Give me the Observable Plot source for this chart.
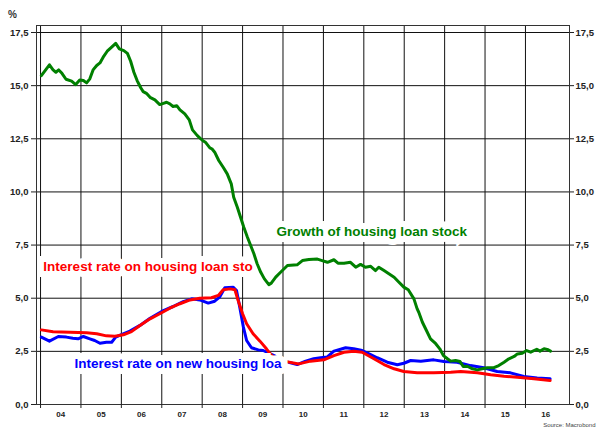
<!DOCTYPE html>
<html>
<head>
<meta charset="utf-8">
<script src="https://cdn.jsdelivr.net/npm/d3@7"></script>
<script src="https://cdn.jsdelivr.net/npm/@observablehq/plot@0.6"></script>
<style>
  html, body { margin: 0; padding: 0; background: #fff; }
  #chart svg { display: block; }
</style>
</head>
<body>
<div id="chart"></div>
<script>
// Time in decimal years, values in %
const greenT = [2004.02,2004.22,2004.31,2004.38,2004.45,2004.53,2004.63,2004.77,2004.87,2004.97,2005.06,2005.14,2005.22,2005.30,2005.39,2005.47,2005.55,2005.65,2005.76,2005.86,2005.95,2006.06,2006.15,2006.23,2006.31,2006.39,2006.48,2006.54,2006.62,2006.71,2006.83,2006.95,2007.04,2007.12,2007.20,2007.28,2007.37,2007.45,2007.57,2007.68,2007.76,2007.88,2008.01,2008.08,2008.19,2008.24,2008.31,2008.41,2008.52,2008.62,2008.72,2008.78,2008.87,2008.95,2009.03,2009.12,2009.20,2009.28,2009.36,2009.45,2009.54,2009.65,2009.71,2009.82,2009.94,2010.11,2010.35,2010.48,2010.64,2010.85,2010.97,2011.10,2011.26,2011.36,2011.51,2011.67,2011.80,2011.92,2012.04,2012.17,2012.29,2012.37,2012.50,2012.62,2012.75,2012.87,2012.99,2013.10,2013.24,2013.32,2013.36,2013.45,2013.55,2013.65,2013.78,2013.88,2013.97,2014.07,2014.15,2014.27,2014.38,2014.46,2014.56,2014.69,2014.81,2014.93,2015.06,2015.22,2015.34,2015.47,2015.59,2015.72,2015.80,2015.92,2016.03,2016.13,2016.28,2016.36,2016.46,2016.54,2016.62];
const greenV = [15.47,15.98,15.74,15.63,15.74,15.58,15.30,15.21,15.05,15.27,15.24,15.13,15.32,15.74,15.95,16.07,16.34,16.62,16.81,16.99,16.73,16.65,16.52,16.15,15.63,15.24,14.90,14.72,14.64,14.45,14.33,14.11,14.17,14.22,14.14,14.02,14.06,13.86,13.67,13.39,12.92,12.65,12.42,12.34,12.07,12.03,11.87,11.48,11.16,10.85,10.38,9.75,9.28,8.81,8.34,7.87,7.48,7.09,6.62,6.22,5.91,5.64,5.71,5.99,6.22,6.54,6.57,6.77,6.82,6.84,6.77,6.69,6.81,6.65,6.65,6.69,6.46,6.59,6.46,6.50,6.30,6.46,6.30,6.15,5.99,5.75,5.52,5.40,4.97,4.50,4.34,3.87,3.48,3.09,2.86,2.62,2.30,2.15,2.04,2.07,2.02,1.79,1.80,1.68,1.63,1.68,1.73,1.73,1.83,1.99,2.15,2.26,2.38,2.41,2.54,2.46,2.60,2.51,2.62,2.59,2.51];

const redT = [2004.02,2004.31,2004.73,2005.14,2005.39,2005.63,2005.84,2006.05,2006.25,2006.46,2006.71,2006.95,2007.20,2007.45,2007.70,2007.94,2008.23,2008.40,2008.52,2008.69,2008.81,2008.89,2009.00,2009.10,2009.26,2009.43,2009.59,2009.72,2009.87,2010.02,2010.39,2010.68,2011.01,2011.26,2011.51,2011.75,2011.96,2012.25,2012.50,2012.75,2012.99,2013.32,2013.73,2014.15,2014.40,2014.81,2015.14,2015.47,2015.80,2016.21,2016.61];
const redV = [3.51,3.42,3.40,3.37,3.33,3.23,3.21,3.28,3.43,3.72,4.03,4.27,4.53,4.74,4.92,5.00,5.02,5.13,5.40,5.44,5.40,4.89,4.27,3.80,3.33,2.98,2.62,2.30,2.12,2.04,1.91,2.04,2.10,2.30,2.46,2.51,2.46,2.15,1.88,1.68,1.55,1.49,1.49,1.52,1.55,1.49,1.40,1.33,1.28,1.21,1.13];

const blueT = [2004.02,2004.22,2004.44,2004.64,2004.80,2004.93,2005.06,2005.22,2005.34,2005.47,2005.63,2005.76,2005.86,2006.00,2006.21,2006.46,2006.71,2007.04,2007.28,2007.53,2007.74,2007.94,2008.15,2008.31,2008.43,2008.56,2008.77,2008.85,2008.93,2009.02,2009.10,2009.22,2009.39,2009.51,2009.78,2010.02,2010.35,2010.56,2010.76,2010.93,2011.09,2011.26,2011.55,2011.75,2011.96,2012.17,2012.33,2012.58,2012.83,2012.99,2013.16,2013.41,2013.73,2013.98,2014.31,2014.64,2014.97,2015.30,2015.63,2015.96,2016.29,2016.61];
const blueV = [3.17,2.98,3.20,3.17,3.12,3.09,3.20,3.09,3.01,2.88,2.93,2.93,3.17,3.29,3.45,3.72,4.06,4.42,4.61,4.84,4.97,4.92,4.77,4.86,5.05,5.49,5.52,5.36,4.58,3.64,3.01,2.67,2.57,2.54,2.30,2.04,1.88,2.04,2.15,2.20,2.23,2.51,2.67,2.62,2.54,2.35,2.20,1.99,1.87,1.94,2.07,2.04,2.10,2.02,1.99,1.83,1.73,1.55,1.49,1.32,1.25,1.21];

const yTicks = [0, 2.5, 5, 7.5, 10, 12.5, 15, 17.5];
const yearTicks = [2004,2005,2006,2007,2008,2009,2010,2011,2012,2013,2014,2015,2016];
const yearLabels = ["04","05","06","07","08","09","10","11","12","13","14","15","16"];

const seriesLabels = [
  {t: 2004.07, v: 6.49, text: "Interest rate on housing loan sto", color: "#ff0000"},
  {t: 2004.84, v: 1.93, text: "Interest rate on new housing loa", color: "#0000ff"},
  {t: 2009.84, v: 8.14, text: "Growth of housing loan stock", color: "#008000"}
];

const toRows = (T, V) => T.map((t, i) => ({t, v: V[i]}));
const green = toRows(greenT, greenV);
const red = toRows(redT, redV);
const blue = toRows(blueT, blueV);
const fmt = d => d.toFixed(1).replace(".", ",");
const midYears = yearTicks.map(y => y + 0.5);

const chart = Plot.plot({
  width: 596,
  height: 428,
  marginLeft: 36,
  marginRight: 27,
  marginTop: 25,
  marginBottom: 24,
  style: {fontFamily: "'Liberation Sans', Arial, sans-serif", background: "#fff", color: "#222"},
  x: {domain: [2003.90, 2017.09]},
  y: {domain: [0, 17.83]},
  marks: [
    Plot.gridY(yTicks, {stroke: "#111", strokeOpacity: 1}),
    Plot.gridX(yearTicks, {stroke: "#111", strokeOpacity: 1}),
    Plot.frame({stroke: "#333"}),
    Plot.axisY(yTicks, {anchor: "left", tickFormat: fmt, tickSize: 5, tickPadding: 3, fontSize: 9.5, fontWeight: "bold", label: null}),
    Plot.axisY(yTicks, {anchor: "right", tickFormat: fmt, tickSize: 4, tickPadding: 2, fontSize: 9.5, fontWeight: "bold", label: null}),
    Plot.axisX(yearTicks, {tickSize: 4, tickFormat: () => "", label: null}),
    Plot.axisX(midYears, {tickSize: 0, tickPadding: 7, tickFormat: (d, i) => yearLabels[i], fontSize: 8, fontWeight: "bold", label: null}),
    Plot.line(blue, {x: "t", y: "v", stroke: "#0000ff", strokeWidth: 3, strokeLinejoin: "round"}),
    Plot.line(red, {x: "t", y: "v", stroke: "#ff0000", strokeWidth: 3, strokeLinejoin: "round"}),
    Plot.text(seriesLabels, {x: "t", y: "v", text: "text", fill: "color", textAnchor: "start", lineAnchor: "middle",
      fontSize: 13.5, fontWeight: "bold", stroke: "#fff", strokeWidth: 12, strokeLinejoin: "miter"}),
    Plot.line(green, {x: "t", y: "v", stroke: "#008000", strokeWidth: 3, strokeLinejoin: "round"}),
    Plot.text(["%"], {frameAnchor: "top-left", dx: -24, dy: -11, textAnchor: "middle", lineAnchor: "middle", fontSize: 10, fontWeight: "bold", fill: "#333"}),
    Plot.text(["Source: Macrobond"], {frameAnchor: "bottom-right", dx: 26, dy: 21, textAnchor: "end", lineAnchor: "middle", fontSize: 6, fill: "#444"})
  ]
});
document.getElementById("chart").append(chart);
</script>
</body>
</html>
